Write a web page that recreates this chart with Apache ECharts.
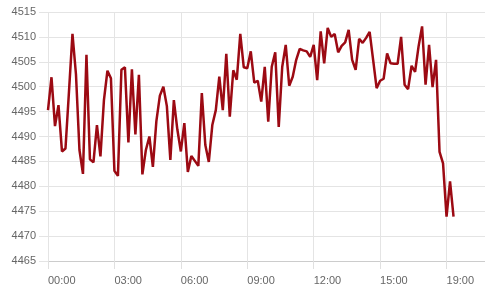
<!DOCTYPE html>
<html>
<head>
<meta charset="utf-8">
<script src="https://cdn.jsdelivr.net/npm/echarts@6/dist/echarts.min.js"></script>
<style>
html,body{margin:0;padding:0;background:#fff;}
#chart{width:485px;height:304px;}
</style>
</head>
<body>
<div id="chart"></div>
<script>
// Tick labels along the time axis (one every 19 samples)
const tickLabels = ['00:00','03:00','06:00','09:00','12:00','15:00','19:00'];
const samplesPerTick = 19;
const totalSlots = 126;

// Series values
const prices = [
  4495.3, 4501.9, 4492.1, 4496.3, 4487.0, 4487.6, 4499.0, 4510.6, 4502.5, 4487.3,
  4482.5, 4506.4, 4485.4, 4484.8, 4492.3, 4486.0, 4497.3, 4503.2, 4501.7, 4483.1,
  4482.1, 4503.4, 4503.9, 4488.8, 4503.5, 4490.4, 4502.4, 4482.4, 4487.3, 4490.0,
  4483.9, 4493.1, 4498.2, 4500.0, 4496.1, 4485.3, 4497.3, 4491.4, 4487.0, 4492.7,
  4482.9, 4486.1, 4485.1, 4484.1, 4498.7, 4488.3, 4484.9, 4492.3, 4495.3, 4502.0,
  4495.3, 4506.6, 4494.0, 4503.3, 4501.4, 4510.6, 4503.9, 4503.7, 4507.1, 4500.8,
  4501.2, 4497.0, 4504.0, 4493.0, 4504.0, 4506.9, 4491.9, 4504.0, 4508.4, 4500.2,
  4502.0, 4505.4, 4507.6, 4507.3, 4507.1, 4506.0, 4508.4, 4501.3, 4511.1, 4504.7,
  4511.8, 4510.0, 4510.6, 4506.9, 4508.2, 4508.9, 4511.4, 4505.4, 4503.4, 4509.6,
  4508.8, 4509.8, 4511.0, 4505.4, 4499.7, 4501.2, 4501.6, 4506.7, 4504.7, 4504.6,
  4504.6, 4510.0, 4500.4, 4499.5, 4504.2, 4503.0, 4508.1, 4512.1, 4500.4, 4508.4,
  4499.9, 4505.4, 4486.9, 4484.6, 4473.9, 4481.0, 4473.9
];

const yMin = 4465, yMax = 4515, yStep = 5;

const categories = [];
for (let i = 0; i < totalSlots; i++) {
  const k = i / samplesPerTick;
  categories.push(Number.isInteger(k) && k < tickLabels.length ? tickLabels[k] : '');
}

const font = '"Liberation Sans", Arial, sans-serif';
const chart = echarts.init(document.getElementById('chart'), null, {renderer: 'canvas'});
chart.setOption({
  animation: false,
  grid: {left: 48, right: 0, top: 12, bottom: 43, containLabel: false},
  xAxis: {
    type: 'category',
    data: categories,
    boundaryGap: false,
    axisLine: {lineStyle: {color: '#cccccc', width: 1}},
    axisTick: {show: true, length: 8, interval: samplesPerTick - 1, lineStyle: {color: '#e0e0e0'}},
    axisLabel: {interval: samplesPerTick - 1, color: '#666', fontSize: 11, margin: 14,
                align: 'left', fontFamily: font},
    splitLine: {show: true, interval: samplesPerTick - 1, lineStyle: {color: '#e4e4e4', width: 1}}
  },
  yAxis: {
    type: 'value',
    min: yMin, max: yMax, interval: yStep,
    axisLine: {show: false},
    axisTick: {show: true, length: 9, lineStyle: {color: '#e4e4e4'}},
    axisLabel: {color: '#666', fontSize: 11, margin: 12, fontFamily: font,
                formatter: v => String(v)},
    splitLine: {show: true, lineStyle: {color: '#e4e4e4', width: 1}}
  },
  series: [{
    type: 'line',
    data: prices,
    showSymbol: false,
    symbol: 'none',
    lineStyle: {color: '#9c0a13', width: 2.5},
    itemStyle: {color: '#9c0a13'}
  }]
});
</script>
</body>
</html>
